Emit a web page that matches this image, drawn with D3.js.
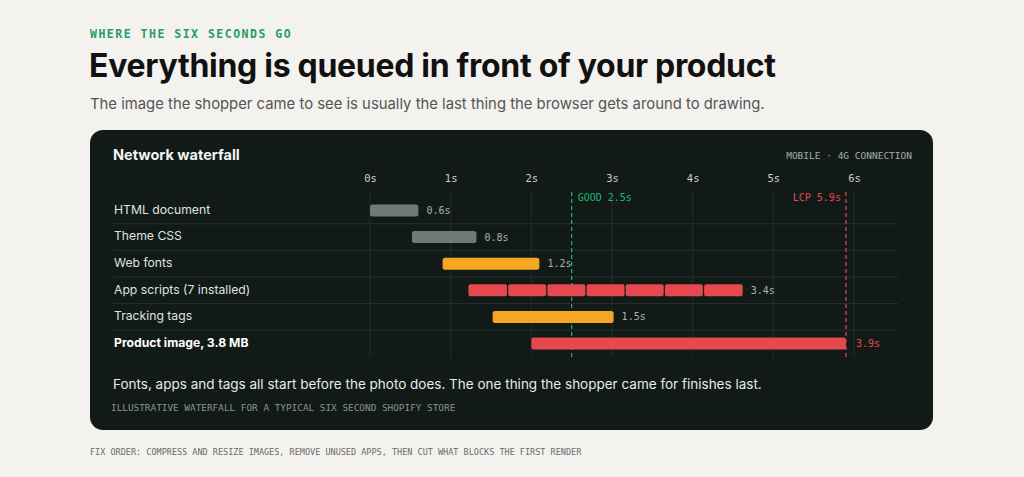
<!DOCTYPE html>
<html><head><meta charset="utf-8">
<script src="https://cdn.jsdelivr.net/npm/d3@7"></script>
<style>
html,body{margin:0;padding:0;background:#f3f2ef;}
svg{display:block;}
</style></head>
<body>
<svg id="c" width="1024" height="477"></svg>
<script>
const rows = ["HTML document","Theme CSS","Web fonts","App scripts (7 installed)","Tracking tags","Product image, 3.8 MB"];
const starts = [0, 0.52, 0.9, 1.22, 1.52, 2.0];
const durations = [0.6, 0.8, 1.2, 3.4, 1.5, 3.9];
const kinds = ["doc","doc","font","script","font","image"];
const segments = [1,1,1,7,1,1];
const tickValues = [0,1,2,3,4,5,6];
const markerNames = ["GOOD","LCP"];
const markerValues = [2.5, 5.9];

const MONO = "'DejaVu Sans Mono', 'Liberation Mono', monospace";
const SANS = "Inter, 'Noto Sans', sans-serif";
const colors = {doc:"#6e7b76", font:"#f5a623", script:"#e5484d", image:"#e5484d"};

const svg = d3.select("#c");

// header texts
svg.append("text").attr("x",90).attr("y",34).attr("dominant-baseline","middle")
  .attr("font-family",MONO).attr("font-weight","bold").attr("font-size",11.5)
  .attr("letter-spacing",1.5).attr("fill","#1f9d63").text("WHERE THE SIX SECONDS GO");
svg.append("text").attr("x",89).attr("y",77)
  .attr("font-family",SANS).attr("font-weight",700).attr("font-size",32)
  .attr("letter-spacing",-0.3).attr("fill","#111").text("Everything is queued in front of your product");
svg.append("text").attr("x",90).attr("y",109)
  .attr("font-family",SANS).attr("font-size",14.85).attr("fill","#555")
  .text("The image the shopper came to see is usually the last thing the browser gets around to drawing.");

// card
svg.append("rect").attr("x",90).attr("y",130).attr("width",843).attr("height",300)
  .attr("rx",13).attr("fill","#121a17");

svg.append("text").attr("x",113).attr("y",156).attr("dominant-baseline","middle")
  .attr("font-family",SANS).attr("font-weight",700).attr("font-size",14.5).attr("fill","#f2f4f3")
  .text("Network waterfall");
svg.append("text").attr("x",912).attr("y",156).attr("dominant-baseline","middle").attr("text-anchor","end")
  .attr("font-family",MONO).attr("font-size",9.5).attr("fill","#a7aeab")
  .text("MOBILE \u00b7 4G CONNECTION");

const x = d3.scaleLinear().domain([0,6]).range([370,854]);
const y = d3.scaleBand().domain(rows).range([197.2,356.8]).padding(0);

// tick labels via axis
const axis = d3.axisTop(x).tickValues(tickValues).tickFormat(d=>d+"s").tickSize(0).tickPadding(0);
const ag = svg.append("g").attr("transform","translate(0,182)").call(axis);
ag.select(".domain").remove();
ag.selectAll("text").attr("font-family",MONO).attr("font-size",10.5).attr("fill","#c9cfcc").attr("dy",0);

// gridlines
svg.append("g").selectAll("line").data(tickValues).join("line")
  .attr("x1",d=>x(d)).attr("x2",d=>x(d)).attr("y1",192).attr("y2",357)
  .attr("stroke","#232d29").attr("stroke-width",1);

// row separators
svg.append("g").selectAll("line").data(rows.slice(1)).join("line")
  .attr("x1",113).attr("x2",898).attr("y1",d=>y(d)).attr("y2",d=>y(d))
  .attr("stroke","#27312d").attr("stroke-width",1);

// row labels
svg.append("g").selectAll("text").data(rows).join("text")
  .attr("x",114).attr("y",d=>y(d)+y.bandwidth()/2).attr("dominant-baseline","middle")
  .attr("font-family",SANS).attr("font-size",12.2)
  .attr("font-weight",(d,i)=>kinds[i]==="image"?700:400)
  .attr("fill",(d,i)=>kinds[i]==="image"?"#ffffff":"#dfe4e1")
  .text(d=>d);

// marker lines
const mColors = ["#22b573","#e5484d"];
markerValues.forEach((v,i)=>{
  svg.append("line").attr("x1",x(v)).attr("x2",x(v)).attr("y1",192).attr("y2",357)
    .attr("stroke",mColors[i]).attr("stroke-width",1.2).attr("stroke-dasharray","4,3");
  svg.append("text").attr("x", i===0 ? x(v)+6 : x(v)-5).attr("y",198).attr("dominant-baseline","middle")
    .attr("text-anchor", i===0 ? "start":"end")
    .attr("font-family",MONO).attr("font-size",10).attr("fill",mColors[i])
    .text(markerNames[i]+" "+v+"s");
});

// bars
const barH = 12;
const gap = 0.6;
rows.forEach((r,i)=>{
  const x0 = x(starts[i]), x1 = x(starts[i]+durations[i]);
  const cy = y(r)+y.bandwidth()/2;
  const n = segments[i];
  const segW = (x1-x0)/n;
  const segs = d3.range(n);
  svg.append("g").selectAll("rect").data(segs).join("rect")
    .attr("x",k=>x0+k*segW + (k>0?gap:0))
    .attr("width",k=>segW - (n>1 ? (k>0?gap:0)+(k<n-1?gap:0) : 0))
    .attr("y",cy-barH/2).attr("height",barH).attr("rx",n>1?2:2.5)
    .attr("fill",colors[kinds[i]]);
  svg.append("text").attr("x",x1+(kinds[i]==="image"?10:8)).attr("y",cy+0.5).attr("dominant-baseline","middle")
    .attr("font-family",MONO).attr("font-size",10)
    .attr("fill",kinds[i]==="image"?"#e5484d":"#aab1ae")
    .text(durations[i]+"s");
});

// card footer
svg.append("text").attr("x",113).attr("y",385).attr("dominant-baseline","middle")
  .attr("font-family",SANS).attr("font-size",13.5).attr("fill","#e6eae8")
  .text("Fonts, apps and tags all start before the photo does. The one thing the shopper came for finishes last.");
svg.append("text").attr("x",111).attr("y",408).attr("dominant-baseline","middle")
  .attr("font-family",MONO).attr("font-size",9.4).attr("fill","#8b9390")
  .text("ILLUSTRATIVE WATERFALL FOR A TYPICAL SIX SECOND SHOPIFY STORE");

svg.append("text").attr("x",90).attr("y",452).attr("dominant-baseline","middle")
  .attr("font-family",MONO).attr("font-size",8.5).attr("fill","#6b6b6b")
  .text("FIX ORDER: COMPRESS AND RESIZE IMAGES, REMOVE UNUSED APPS, THEN CUT WHAT BLOCKS THE FIRST RENDER");
</script>
</body></html>
